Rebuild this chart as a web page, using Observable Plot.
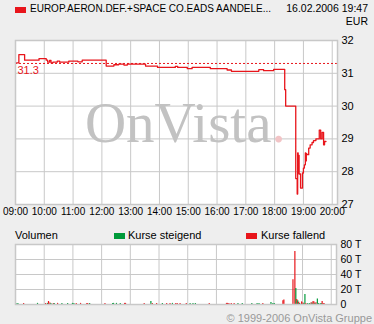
<!DOCTYPE html>
<html><head><meta charset="utf-8">
<script src="https://cdn.jsdelivr.net/npm/d3@7"></script>
<script src="https://cdn.jsdelivr.net/npm/@observablehq/plot@0.6"></script>
<style>
body{margin:0;background:#eeeeee;font-family:"Liberation Sans",Arial,sans-serif;color:#000}
#wrap{position:relative;width:374px;height:324px;overflow:hidden;background:#eeeeee}
.abs{position:absolute;white-space:nowrap;line-height:1}
.sq{position:absolute}
svg{position:absolute;left:0}
</style></head><body><div id="wrap"></div>
<script>
// ---- data ----
const titleText = "EUROP.AERON.DEF.+SPACE CO.EADS AANDELE...";
const dateText = "16.02.2006 19:47";
const currency = "EUR";
const prevClose = 31.3;

const priceTimes = ["09:00","09:07","09:19","09:49","10:04","10:07","10:11","10:14","10:18","10:27","10:32","10:51","11:10","11:19","12:09","12:25","12:35","12:46","12:53","13:31","13:56","14:33","14:38","14:58","15:08","15:46","16:21","16:30","17:27","17:37","17:58","18:21","18:23","18:44","18:47","18:48","18:49","18:50","18:51","18:54","18:58","19:00","19:02","19:04","19:05","19:06","19:07","19:11","19:14","19:18","19:21","19:26","19:33","19:36","19:39","19:42","19:44","19:47"];
const priceValues = [31.32,31.57,31.40,31.45,31.40,31.34,31.39,31.32,31.34,31.37,31.34,31.37,31.35,31.40,31.22,31.26,31.28,31.25,31.28,31.22,31.18,31.21,31.18,31.14,31.18,31.14,31.10,31.06,31.11,31.08,31.12,30.50,30.00,27.79,27.32,28.57,27.96,28.50,27.93,27.50,27.96,28.11,28.21,28.57,28.33,28.55,28.52,28.72,28.82,28.89,28.95,29.00,29.27,29.00,29.20,28.82,28.92,28.92];

const volTimes = ["09:01","09:05","09:17","09:46","10:03","10:07","10:09","10:12","10:14","10:19","10:21","10:28","10:37","10:49","10:59","11:02","11:07","11:16","11:29","11:31","11:35","12:07","12:23","12:25","12:31","12:39","12:48","12:50","13:29","13:43","13:46","13:55","14:07","14:16","14:23","14:28","14:35","14:38","14:44","14:57","15:05","15:11","15:16","15:45","16:21","16:23","16:26","16:31","16:37","16:45","16:54","17:14","17:25","17:29","17:37","17:54","17:58","18:01","18:19","18:21","18:40","18:44","18:46","18:48","18:50","18:52","18:54","18:58","19:01","19:03","19:05","19:07","19:11","19:15","19:18","19:20","19:22","19:24","19:26","19:28","19:31","19:33","19:37","19:40","19:41","19:43","19:45"];
const volValues = [1.5,1.5,1.5,1.5,1.5,1.5,4,2,1.5,1.5,1.5,1.5,1.5,1.5,1.5,1.5,1.5,1.5,1.5,1.5,1.5,1.5,1.5,1.5,1.5,1.5,1.5,1.5,1.5,4,1.5,1.5,1.5,1.5,1.5,1.5,1.5,1.5,1.5,1.5,1.5,1.5,1.5,1.5,1.5,1.5,1.5,1.5,1.5,1.5,1.5,1.5,1.5,1.5,1.5,2.7,1.5,1.5,5,6,33,70.7,21.3,6.7,5,3,1.5,3.5,2,1.5,13.3,1.5,1.5,1.5,2.5,2,4,3.5,1.5,2.5,7.5,1.5,1.5,1.5,4,1.5,1.5];
const volDir = ["u","u","d","u","d","u","d","d","u","d","u","d","u","u","u","u","d","d","d","d","u","d","u","u","u","u","d","d","d","u","d","d","u","d","d","u","d","d","d","d","u","u","u","d","d","d","d","d","d","u","u","u","u","u","d","u","u","u","d","d","d","d","u","d","u","d","u","d","d","u","u","d","u","u","d","u","d","d","u","d","u","u","u","u","d","d","d"];

const xTickLabels = ["09:00","10:00","11:00","12:00","13:00","14:00","15:00","16:00","17:00","18:00","19:00","20:00"];
const yTicks = [27,28,29,30,31,32];
const volTicks = [0,20,40,60,80];

const legendUp = "Kurse steigend";
const legendDown = "Kurse fallend";
const volLabel = "Volumen";
const footer = "© 1999-2006 OnVista Gruppe";

// ---- build ----
const toH = s => { const [h, m] = s.split(":").map(Number); return h + m / 60; };
const xTicks = xTickLabels.map(toH);
const xDomain = [9, toH("20:11")];
const price = priceTimes.map((t, i) => ({h: toH(t), p: priceValues[i]}));
const vol = volTimes.map((t, i) => ({h: toH(t), v: volValues[i], dir: volDir[i]}));

const RED = "#e8151b", GREEN = "#009a3a", GRID = "#c8c8c8";
const font = '"Liberation Sans", Arial, sans-serif';
const wrap = document.getElementById("wrap");

const main = Plot.plot({
  width: 374, height: 220,
  marginLeft: 15, marginRight: 37, marginTop: 40, marginBottom: 16,
  style: {background: "transparent", fontFamily: font, fontSize: "11px", color: "#000", overflow: "visible"},
  x: {domain: xDomain, ticks: xTicks, tickSize: 0, tickPadding: 3, label: null,
      tickFormat: d => xTickLabels[xTicks.indexOf(d)]},
  y: {domain: [27, 32], ticks: yTicks, axis: "right", tickSize: 0, tickPadding: 4, label: null,
      tickFormat: d => String(d)},
  marks: [
    Plot.frame({fill: "white"}),
    Plot.ruleX(xTicks, {stroke: GRID, strokeWidth: 1}),
    Plot.ruleY(yTicks, {stroke: GRID, strokeWidth: 1}),
    Plot.text(["OnVista"], {text: d => d, frameAnchor: "middle", textAnchor: "end", dx: 95, dy: 1,
      fontSize: 57, fontFamily: '"Liberation Serif", "Times New Roman", serif', fill: "#c2c2c2"}),
    Plot.text(["."], {text: d => d, frameAnchor: "middle", textAnchor: "start", dx: 95, dy: 1,
      fontSize: 57, fontFamily: '"Liberation Serif", "Times New Roman", serif', fill: "#f2c4c6"}),
    Plot.ruleY([prevClose], {y: d => d, stroke: RED, strokeDasharray: "2,2", strokeWidth: 1}),
    Plot.text([prevClose], {y: d => d, text: d => d.toFixed(1), frameAnchor: "left", textAnchor: "start",
      dx: 2, dy: 7, fill: RED, fontSize: 11}),
    Plot.line(price, {x: "h", y: "p", curve: "step-after", stroke: RED, strokeWidth: 1.3}),
    Plot.frame({stroke: GRID, strokeWidth: 1.5})
  ]
});
main.style.top = "0px";
wrap.appendChild(main);
main.querySelectorAll('g[aria-label="x-axis tick label"] text').forEach(t => t.setAttribute("font-size", "10"));

const volPlot = Plot.plot({
  width: 374, height: 100,
  marginLeft: 15, marginRight: 38, marginTop: 24, marginBottom: 16,
  style: {background: "transparent", fontFamily: font, fontSize: "10.5px", color: "#000", overflow: "visible"},
  x: {domain: xDomain, axis: null},
  y: {domain: [0, 80], ticks: volTicks, axis: "right", tickSize: 0, tickPadding: 4, label: null,
      tickFormat: d => d === 0 ? "0" : d + " T"},
  color: {domain: ["u", "d"], range: [GREEN, RED]},
  marks: [
    Plot.frame({fill: "white"}),
    Plot.ruleX(xTicks, {stroke: GRID, strokeWidth: 1}),
    Plot.ruleY(volTicks, {stroke: GRID, strokeWidth: 1}),
    Plot.ruleX(vol, {x: "h", y: "v", stroke: "dir", strokeWidth: 1.2}),
    Plot.frame({stroke: GRID, strokeWidth: 1.5})
  ]
});
volPlot.style.top = "220px";
wrap.appendChild(volPlot);

function addText(txt, css) {
  const d = document.createElement("div");
  d.className = "abs";
  d.textContent = txt;
  Object.assign(d.style, css);
  wrap.appendChild(d);
  return d;
}
function addSq(css) {
  const d = document.createElement("div");
  d.className = "sq";
  Object.assign(d.style, css);
  wrap.appendChild(d);
}
addSq({left: "15px", top: "7px", width: "11px", height: "6px", background: RED});
addText(titleText, {left: "30px", top: "4px", fontSize: "10px"});
addText(dateText, {right: "6px", top: "3px", fontSize: "10.5px"});
addText(currency, {right: "6px", top: "15.5px", fontSize: "10.5px"});
addText(volLabel, {left: "15px", top: "230px", fontSize: "11px"});
addSq({left: "114px", top: "233px", width: "11px", height: "6px", background: GREEN});
addText(legendUp, {left: "128px", top: "230px", fontSize: "11px"});
addSq({left: "246px", top: "233px", width: "11px", height: "6px", background: RED});
addText(legendDown, {left: "261px", top: "230px", fontSize: "11px"});
addText(footer, {right: "2px", top: "313px", fontSize: "11px", color: "#999"});
</script></body></html>
